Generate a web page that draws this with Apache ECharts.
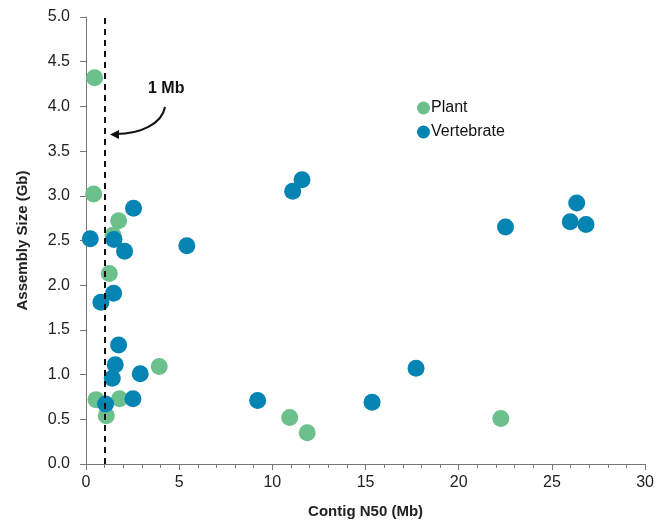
<!DOCTYPE html>
<html>
<head>
<meta charset="utf-8">
<script src="https://cdn.jsdelivr.net/npm/echarts@6/dist/echarts.min.js"></script>
<style>
  html, body { margin: 0; padding: 0; background: #fff; }
  #chart { width: 657px; height: 527px; }
</style>
</head>
<body>
<div id="chart"></div>
<script>
// Contig N50 (Mb) vs assembly size (Gb)
const plantN50 = [0.46, 0.41, 1.75, 1.45, 1.25, 3.93, 0.54, 1.8, 1.09, 10.93, 11.87, 22.26]
const plantSize = [4.32, 3.02, 2.72, 2.56, 2.13, 1.09, 0.72, 0.73, 0.54, 0.52, 0.35, 0.51]

const vertN50 = [2.55, 0.23, 1.5, 2.07, 5.41, 1.48, 0.8, 1.75, 1.57, 1.41, 2.91, 2.52, 1.05,
  11.59, 11.09, 9.21, 15.35, 17.71, 22.51, 26.33, 25.98, 26.83]
const vertSize = [2.86, 2.52, 2.51, 2.38, 2.44, 1.91, 1.81, 1.33, 1.11, 0.96, 1.01, 0.73, 0.67,
  3.18, 3.05, 0.71, 0.69, 1.07, 2.65, 2.92, 2.71, 2.68]

const cutoff = 1 // 1 Mb line

const plantColor = 'rgb(107, 192, 140)'
const vertColor = 'rgb(4, 132, 178)'

function pairs(xs, ys) {
  return xs.map((x, i) => [x, ys[i]])
}

let chart = echarts.init(document.getElementById('chart'))
chart.setOption({
  animation: false,
  textStyle: { fontFamily: 'Liberation Sans, Arial, sans-serif' },
  grid: { left: 86, right: 11, top: 17, bottom: 63 },
  legend: {
    orient: 'vertical',
    left: 412,
    top: 95,
    itemGap: 8,
    itemWidth: 13,
    itemHeight: 13,
    icon: 'circle',
    textStyle: { fontSize: 16, color: '#111', padding: [0, 0, 0, -4] },
    data: ['Plant', 'Vertebrate'],
  },
  xAxis: {
    type: 'value',
    min: 0,
    max: 30,
    interval: 5,
    name: 'Contig N50 (Mb)',
    nameLocation: 'middle',
    nameGap: 40,
    nameTextStyle: { fontSize: 15, fontWeight: 'bold', color: '#222' },
    axisLine: { lineStyle: { color: '#777', width: 1 } },
    axisTick: { show: true, length: 6, inside: false, lineStyle: { color: '#777' } },
    minorTick: { show: true, splitNumber: 5, length: 4, lineStyle: { color: '#777' } },
    axisLabel: { fontSize: 16, color: '#222', margin: 11 },
    splitLine: { show: false },
  },
  yAxis: {
    type: 'value',
    min: 0,
    max: 5,
    interval: 0.5,
    name: 'Assembly Size (Gb)',
    nameLocation: 'middle',
    nameGap: 56,
    nameTextStyle: { fontSize: 15, fontWeight: 'bold', color: '#222' },
    axisLine: { show: true, lineStyle: { color: '#777', width: 1 } },
    axisTick: { show: true, length: 6, lineStyle: { color: '#777' } },
    axisLabel: { fontSize: 16, color: '#222', margin: 16, formatter: (v) => v.toFixed(1) },
    splitLine: { show: false },
  },
  series: [
    {
      // carries only the dashed 1 Mb line, drawn under the points
      type: 'scatter',
      data: [],
      z: 1,
      markLine: {
        silent: true,
        symbol: 'none',
        label: { show: false },
        lineStyle: { color: '#111', type: [6, 5], width: 2 },
        data: [{ xAxis: cutoff }],
      },
    },
    {
      name: 'Plant',
      type: 'scatter',
      symbolSize: 17,
      itemStyle: { color: plantColor, opacity: 1 },
      data: pairs(plantN50, plantSize),
      z: 2,
    },
    {
      name: 'Vertebrate',
      type: 'scatter',
      symbolSize: 17,
      itemStyle: { color: vertColor, opacity: 1 },
      data: pairs(vertN50, vertSize),
      z: 3,
    },
  ],
  graphic: [
    {
      type: 'text',
      left: 148,
      top: 81,
      style: { text: '1 Mb', fontSize: 16, fontWeight: 'bold', fill: '#111', fontFamily: 'Liberation Sans, Arial, sans-serif' },
    },
    {
      type: 'bezierCurve',
      shape: { x1: 165, y1: 107, cpx1: 162, cpy1: 124, cpx2: 140, cpy2: 134, x2: 116, y2: 134 },
      style: { stroke: '#111', lineWidth: 2, fill: null },
    },
    {
      type: 'polygon',
      shape: { points: [[110, 134.5], [119, 130], [119, 139]] },
      style: { fill: '#111' },
    },
  ],
})
</script>
</body>
</html>
